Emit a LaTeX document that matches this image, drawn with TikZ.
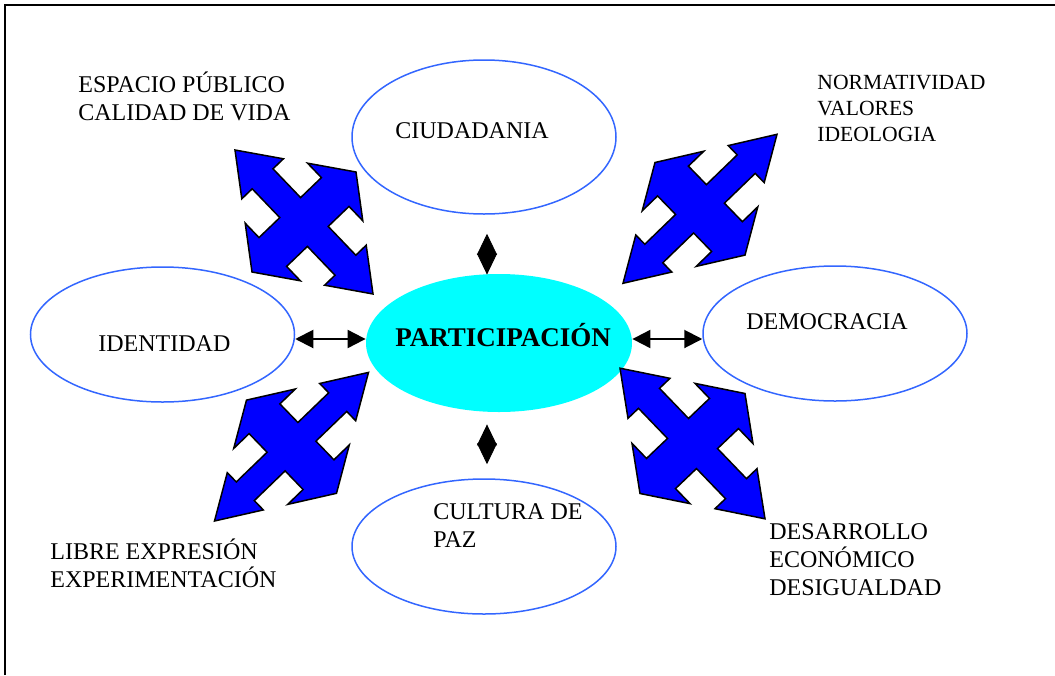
\documentclass[tikz,border=0pt]{standalone}
\usepackage{fontspec}
\setmainfont{Liberation Serif}
\usetikzlibrary{arrows.meta,shapes.geometric}
\definecolor{ovalblue}{RGB}{51,102,255}
\definecolor{centrocyan}{RGB}{0,255,255}
\tikzset{
    %Define standard arrow tip
    >={Triangle[length=9pt,width=9pt]},
    elipse/.style={
      ellipse,
      draw=ovalblue, line width=0.75pt,
      inner sep=0pt,
      minimum width=132pt,
      minimum height=67.5pt},
    centro/.style={
      ellipse,
      fill=centrocyan,
      inner sep=0pt,
      minimum width=133pt,
      minimum height=69pt},
    txt/.style={
      anchor=base west,
      inner sep=0pt,
      align=left,
      font=\fontsize{12pt}{14pt}\selectfont},
    flecha/.style={<->, line width=1pt},
    rombo/.style={
      {Triangle[length=10.5pt,width=10pt]}-{Triangle[length=10.5pt,width=10pt]},
      line width=0.4pt},
    marco/.style={line width=1.2pt},
    cruz/.pic={
      \filldraw[fill=blue, draw=black, line width=0.75pt, line join=miter]
        (0.6,-0.4) -- (1,0) -- (0.6,0.4) -- (0.6,0.2) -- (0.2,0.2) -- (0.2,0.6)
        -- (0.4,0.6) -- (0,1) -- (-0.4,0.6) -- (-0.2,0.6) -- (-0.2,0.2)
        -- (-0.6,0.2) -- (-0.6,0.4) -- (-1,0) -- (-0.6,-0.4) -- (-0.6,-0.2)
        -- (-0.2,-0.2) -- (-0.2,-0.6) -- (-0.4,-0.6) -- (0,-1) -- (0.4,-0.6)
        -- (0.2,-0.6) -- (0.2,-0.2) -- (0.6,-0.2) -- cycle;
    },
}

\begin{document}
\begin{tikzpicture}[x=0.5pt, y=-0.5pt]
    \useasboundingbox (0,0) rectangle (1055,675);
    \draw [marco] (5,675) -- (5,5) -- (1055,5);

    % ellipses
    \node (ciud) [elipse, minimum height=77pt] at (484,137) {};
    \node (iden) [elipse] at (162.5,334.5) {};
    \node (demo) [elipse] at (835,333.5) {};
    \node (cult) [elipse] at (484,546.5) {};
    \node (part) [centro] at (499,343) {};

    % texts (base = last line)
    \node (ciudtxt) [txt] at (395,138) {CIUDADANIA};
    \node (identxt) [txt] at (98,351) {IDENTIDAD};
    \node (demotxt) [txt] at (746,329) {DEMOCRACIA};
    \node (culttxt) [txt] at (433,547) {CULTURA DE\\PAZ};
    \node (parttxt) [txt, font=\fontsize{13.5pt}{16pt}\selectfont\bfseries]
          at (395,346) {PARTICIPACIÓN};
    \node (espacio) [txt] at (78,120) {ESPACIO PÚBLICO\\CALIDAD DE VIDA};
    \node (normas) [txt, font=\fontsize{10.8pt}{13pt}\selectfont]
          at (817,141) {NORMATIVIDAD\\VALORES\\IDEOLOGIA};
    \node (libre) [txt] at (50,587) {LIBRE EXPRESIÓN\\EXPERIMENTACIÓN};
    \node (desarr) [txt] at (769,595) {DESARROLLO\\ECONÓMICO\\DESIGUALDAD};

    % small arrows
    \draw [flecha] ([yshift=-2.25pt]iden.east) -- ([yshift=2pt]part.west);
    \draw [flecha] ([yshift=2pt]part.east) -- ([yshift=-2.75pt]demo.west);
    \draw [rombo] ([xshift=1.5pt,yshift=-9.5pt]ciud.south)
          -- ([xshift=-6pt,yshift=-0.5pt]part.north);
    \draw [rombo] ([xshift=-6pt,yshift=-6pt]part.south)
          -- ([xshift=1.5pt,yshift=7pt]cult.north);

    % four way arrows
    \begin{scope}[shift={(304,222)}]
      \pic [x={(34.5pt,-36pt)}, y={(26pt,25pt)}] at (0,0) {cruz};
    \end{scope}
    \begin{scope}[shift={(700,208.8)}]
      \pic [x={(38.5pt,37.25pt)}, y={(22.5pt,-23.15pt)}] at (0,0) {cruz};
    \end{scope}
    \begin{scope}[shift={(291.5,446.7)}]
      \pic [x={(38.5pt,37.15pt)}, y={(22.5pt,-23.3pt)}] at (0,0) {cruz};
    \end{scope}
    \begin{scope}[shift={(692.5,443.5)}]
      \pic [x={(36.25pt,-37.65pt)}, y={(26.25pt,25pt)}] at (0,0) {cruz};
    \end{scope}
\end{tikzpicture}
\end{document}
